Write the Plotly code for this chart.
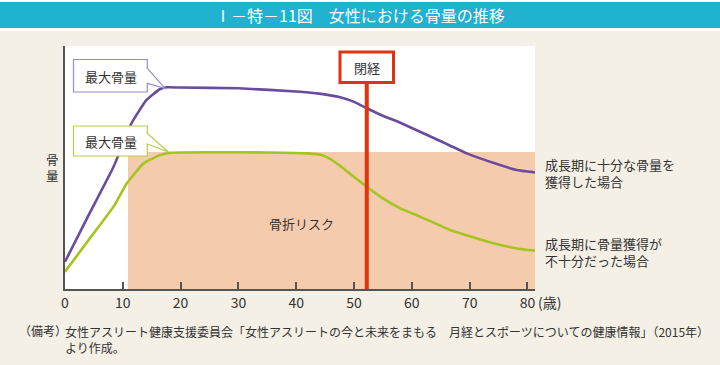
import plotly.graph_objects as go

# ---------------- data ----------------
age_sufficient = [0, 4, 8.4, 11.5, 14.1, 16.4, 17.6, 20, 30, 40.7, 44, 47.6, 50, 52.2, 55, 58, 61.4, 65, 69.5, 75, 78.1, 81.3]
bone_sufficient = [11.2, 30.0, 50.3, 68.2, 77.8, 82.2, 83.0, 82.9, 82.6, 81.2, 80.4, 78.9, 77.0, 74.4, 71.3, 68.4, 64.7, 60.8, 55.8, 51.2, 49.0, 48.0]

age_insufficient = [0, 4, 8.4, 10.7, 13.6, 16.4, 18.2, 25, 35, 42, 44.4, 46, 48, 50, 52.2, 55, 58, 61.4, 66.6, 71, 75.3, 78.5, 81.3]
bone_insufficient = [7.1, 19.9, 33.9, 43.5, 51.7, 55.1, 56.1, 56.3, 56.2, 55.8, 55.1, 53.3, 49.9, 46.1, 42.1, 37.3, 33.2, 29.8, 24.3, 21.0, 18.1, 16.6, 15.8]

risk_start_age = 10.9
risk_level = 56.4
menopause_age = 52.2

x_ticks = [0, 10, 20, 30, 40, 50, 60, 70, 80]
x_tick_labels = [str(v) for v in x_ticks]

title_text = "Ⅰ－特－11図　女性における骨量の推移"
note_lines = ["女性アスリート健康支援委員会「女性アスリートの今と未来をまもる　月経とスポーツについての健康情報」（2015年）",
              "より作成。"]

# ---------------- layout geometry ----------------
W, H = 720, 365
L, R, T, B = 65, 535, 46, 289
X_MAX = 81.3
FONT = "Noto Sans CJK JP, Noto Sans, sans-serif"
PURPLE = "#6a4b9e"
GREEN = "#a6c41f"
RED = "#e2330f"
PINK = "#f5cbae"
BEIGE = "#f4f0e5"
BLUE = "#20b2cf"
TXT = "#333333"


def px(x):
    return (x - L) / (R - L)


def py(y):
    return (B - y) / (B - T)


fig = go.Figure()

fig.add_trace(go.Scatter(x=age_sufficient, y=bone_sufficient, mode="lines",
                         line=dict(color=PURPLE, width=2.6, shape="spline", smoothing=0.4),
                         hoverinfo="skip", showlegend=False))
fig.add_trace(go.Scatter(x=age_insufficient, y=bone_insufficient, mode="lines",
                         line=dict(color=GREEN, width=2.6, shape="spline", smoothing=0.4),
                         hoverinfo="skip", showlegend=False))

shapes = []
# top white strip + blue title bar
shapes.append(dict(type="rect", xref="paper", yref="paper", x0=px(0), x1=px(W), y0=py(31), y1=py(0),
                   fillcolor="white", line=dict(width=0), layer="below"))
shapes.append(dict(type="rect", xref="paper", yref="paper", x0=px(0), x1=px(W), y0=py(28), y1=py(2),
                   fillcolor=BLUE, line=dict(width=0), layer="below"))
# fracture risk zone
shapes.append(dict(type="rect", xref="x", yref="y", x0=risk_start_age, x1=X_MAX, y0=0, y1=risk_level,
                   fillcolor=PINK, line=dict(width=0), layer="below"))
# menopause line
shapes.append(dict(type="line", xref="x", yref="paper", x0=menopause_age, x1=menopause_age, y0=0, y1=py(83),
                   line=dict(color=RED, width=4), layer="above"))
shapes.append(dict(type="rect", xref="paper", yref="paper", x0=px(340), x1=px(393.5), y0=py(82.5), y1=py(52),
                   fillcolor="white", line=dict(color=RED, width=3), layer="above"))


def callout(x0, x1, y0, y1, ta, tb, tipx, tipy, color):
    pts = [(x0, y0), (x1, y0), (x1, ta), (tipx, tipy), (x1, tb), (x1, y1), (x0, y1)]
    path = "M " + " L ".join(f"{px(a):.5f},{py(b):.5f}" for a, b in pts) + " Z"
    return dict(type="path", xref="paper", yref="paper", path=path, fillcolor="white",
                line=dict(color=color, width=1.2), layer="above")


shapes.append(callout(73.5, 147.3, 59.5, 92, 68.3, 83.3, 165, 88.3, "#9c8bc6"))
shapes.append(callout(73.5, 147.3, 126, 156, 133.5, 144, 168.3, 152, "#b7cd4c"))

annotations = []


def note(text, x, y, size=13, xanchor="center", color=TXT):
    annotations.append(dict(text=text, xref="paper", yref="paper", x=px(x), y=py(y), xanchor=xanchor,
                            yanchor="middle", align=xanchor if xanchor != "center" else "center",
                            showarrow=False, font=dict(family=FONT, size=size, color=color)))


note(title_text, 360, 15, size=16, color="white")
note("最大骨量", 110.5, 76.5, size=13)
note("最大骨量", 110.5, 141, size=13)
note("閉経", 366.8, 67.5, size=13)
note("骨<br>量", 52, 167.5, size=12.5)
note("骨折リスク", 301, 223, size=13)
note("成長期に十分な骨量を<br>獲得した場合", 543, 173, size=13, xanchor="left")
note("成長期に骨量獲得が<br>不十分だった場合", 543, 252, size=13, xanchor="left")
note("(歳)", 536, 301.5, size=14, xanchor="left")
note("（備考）", 17, 330.7, size=12, xanchor="left")
note(note_lines[0] + "<br>" + note_lines[1], 63, 339, size=12, xanchor="left")

fig.update_layout(
    width=W, height=H, autosize=False,
    margin=dict(l=L, r=W - R, t=T, b=H - B, pad=0),
    paper_bgcolor=BEIGE, plot_bgcolor="white",
    shapes=shapes, annotations=annotations,
    font=dict(family=FONT, color=TXT),
    xaxis=dict(range=[0, X_MAX], tickvals=x_ticks, ticktext=x_tick_labels, ticks="inside", ticklen=7,
               tickwidth=1.5, tickcolor="#555", showline=True, linecolor="#555", linewidth=2,
               showgrid=False, zeroline=False, tickfont=dict(family=FONT, size=14, color=TXT),
               fixedrange=True),
    yaxis=dict(range=[0, 100], showticklabels=False, ticks="", showline=True, linecolor="#555", linewidth=2,
               showgrid=False, zeroline=False, fixedrange=True),
    showlegend=False,
)

fig.write_html("out.html", config={"displayModeBar": False},
               post_script="document.body.style.margin='0';document.body.style.padding='0';")
